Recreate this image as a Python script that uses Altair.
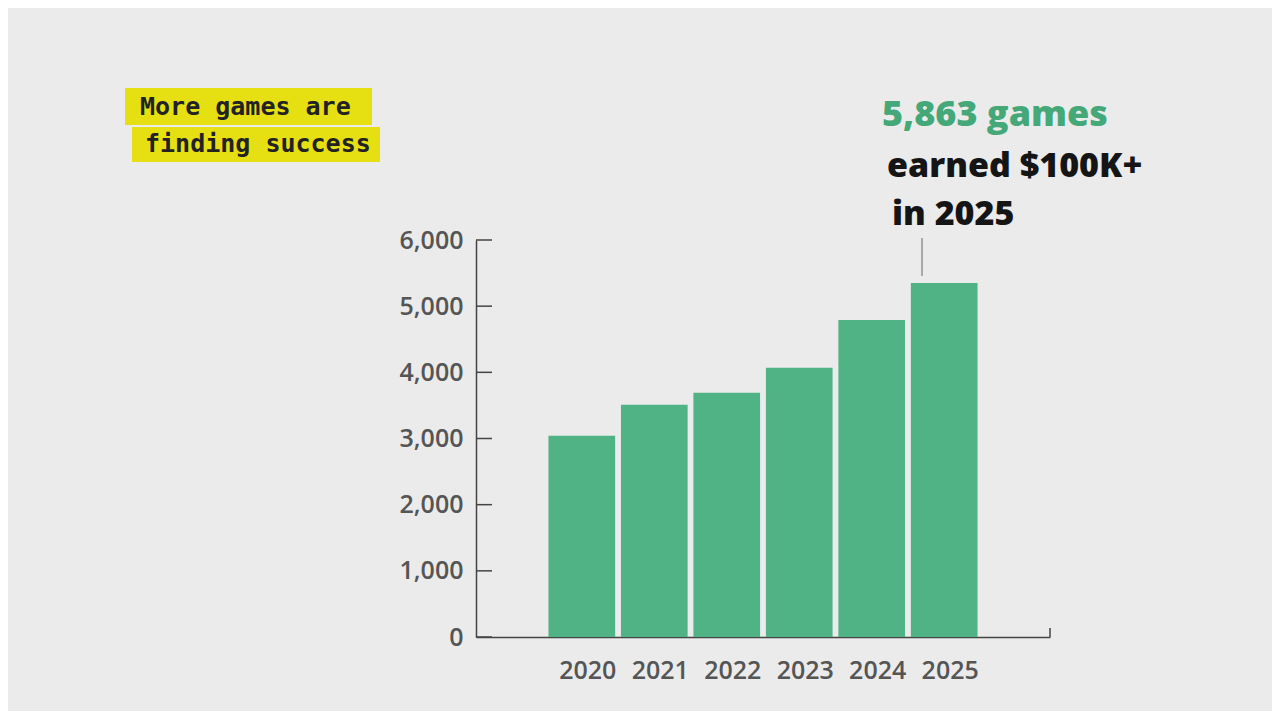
import altair as alt
import pandas as pd

# ---- data ----
years = ["2020", "2021", "2022", "2023", "2024", "2025"]
games = [3040, 3510, 3690, 4070, 4790, 5350]
y_ticks = [0, 1000, 2000, 3000, 4000, 5000, 6000]
title_lines = ["More games are", "finding success"]
note_head = ["5,863 games"]
note_lines = ["earned $100K+", "in 2025"]

W, H = 574, 397
GREEN = "#50b385"
AXIS = "#444444"
LABEL = "#555555"

df = pd.DataFrame({"year": years, "games": games})
ticks_df = pd.DataFrame({"games": y_ticks})
one = pd.DataFrame({"k": [0]})

x_enc = alt.X(
    "year:N",
    sort=years,
    scale=alt.Scale(paddingInner=0.08, paddingOuter=1.0),
    axis=alt.Axis(
        title=None, ticks=False, labelAngle=0, labelPadding=21,
        labelFontSize=25, labelColor=LABEL, labelFont="Open Sans",
        labelFontWeight=600, domainColor=AXIS, domainWidth=1.5,
        labelOffset=6,
    ),
)
y_enc = alt.Y(
    "games:Q",
    scale=alt.Scale(domain=[0, 6000], nice=False),
    axis=alt.Axis(
        title=None, values=y_ticks, format=",d", ticks=False, grid=False,
        labelPadding=13, labelFontSize=25, labelColor=LABEL,
        labelFont="Open Sans", labelFontWeight=600,
        domainColor=AXIS, domainWidth=1.5,
    ),
)

bars = alt.Chart(df).mark_bar(color=GREEN).encode(x=x_enc, y=y_enc)

# inward-pointing y ticks
yticks = alt.Chart(ticks_df).mark_rule(color=AXIS, strokeWidth=1.5).encode(
    y=alt.Y("games:Q"), x=alt.value(0), x2=alt.value(16)
)

# small upward tick at the right end of the x axis
end_tick = alt.Chart(one).mark_rule(color=AXIS, strokeWidth=1.5).encode(
    x=alt.value(W), y=alt.value(H), y2=alt.value(H - 9)
)

# annotation leader line
leader = alt.Chart(one).mark_rule(color="#666666", strokeWidth=1).encode(
    x=alt.value(446), y=alt.value(-2), y2=alt.value(36)
)

head = alt.Chart(one).mark_text(
    align="left", baseline="alphabetic", font="Open Sans", fontSize=36,
    fontWeight=800, color="#45a878"
).encode(x=alt.value(406), y=alt.value(-114), text=alt.value(note_head[0]))

note1 = alt.Chart(one).mark_text(
    align="left", baseline="alphabetic", font="Open Sans", fontSize=34,
    fontWeight=800, color="#151515"
).encode(x=alt.value(411), y=alt.value(-63), text=alt.value(note_lines[0]))

note2 = alt.Chart(one).mark_text(
    align="left", baseline="alphabetic", font="Open Sans", fontSize=34,
    fontWeight=800, color="#151515"
).encode(x=alt.value(416), y=alt.value(-15), text=alt.value(note_lines[1]))

# yellow highlighted title
box1 = alt.Chart(one).mark_rect(color="#e6df12").encode(
    x=alt.value(-351), x2=alt.value(-104), y=alt.value(-152), y2=alt.value(-115)
)
box2 = alt.Chart(one).mark_rect(color="#e6df12").encode(
    x=alt.value(-344), x2=alt.value(-96), y=alt.value(-113), y2=alt.value(-78)
)
t1 = alt.Chart(one).mark_text(
    align="left", baseline="middle", font="DejaVu Sans Mono", fontSize=25,
    fontWeight="bold", color="#222222"
).encode(x=alt.value(-336), y=alt.value(-133), text=alt.value(title_lines[0]))
t2 = alt.Chart(one).mark_text(
    align="left", baseline="middle", font="DejaVu Sans Mono", fontSize=25,
    fontWeight="bold", color="#222222"
).encode(x=alt.value(-331), y=alt.value(-96), text=alt.value(title_lines[1]))

chart = alt.layer(
    bars, yticks, end_tick, leader, head, note1, note2, box1, box2, t1, t2
).properties(
    width=W,
    height=H,
    padding={"left": 468, "top": 232, "right": 222, "bottom": 74},
    autosize=alt.AutoSizeParams(type="none"),
    background="#ebebeb",
).configure_view(stroke=None)

chart.save("out.html", embed_options={"renderer": "svg", "actions": False})
